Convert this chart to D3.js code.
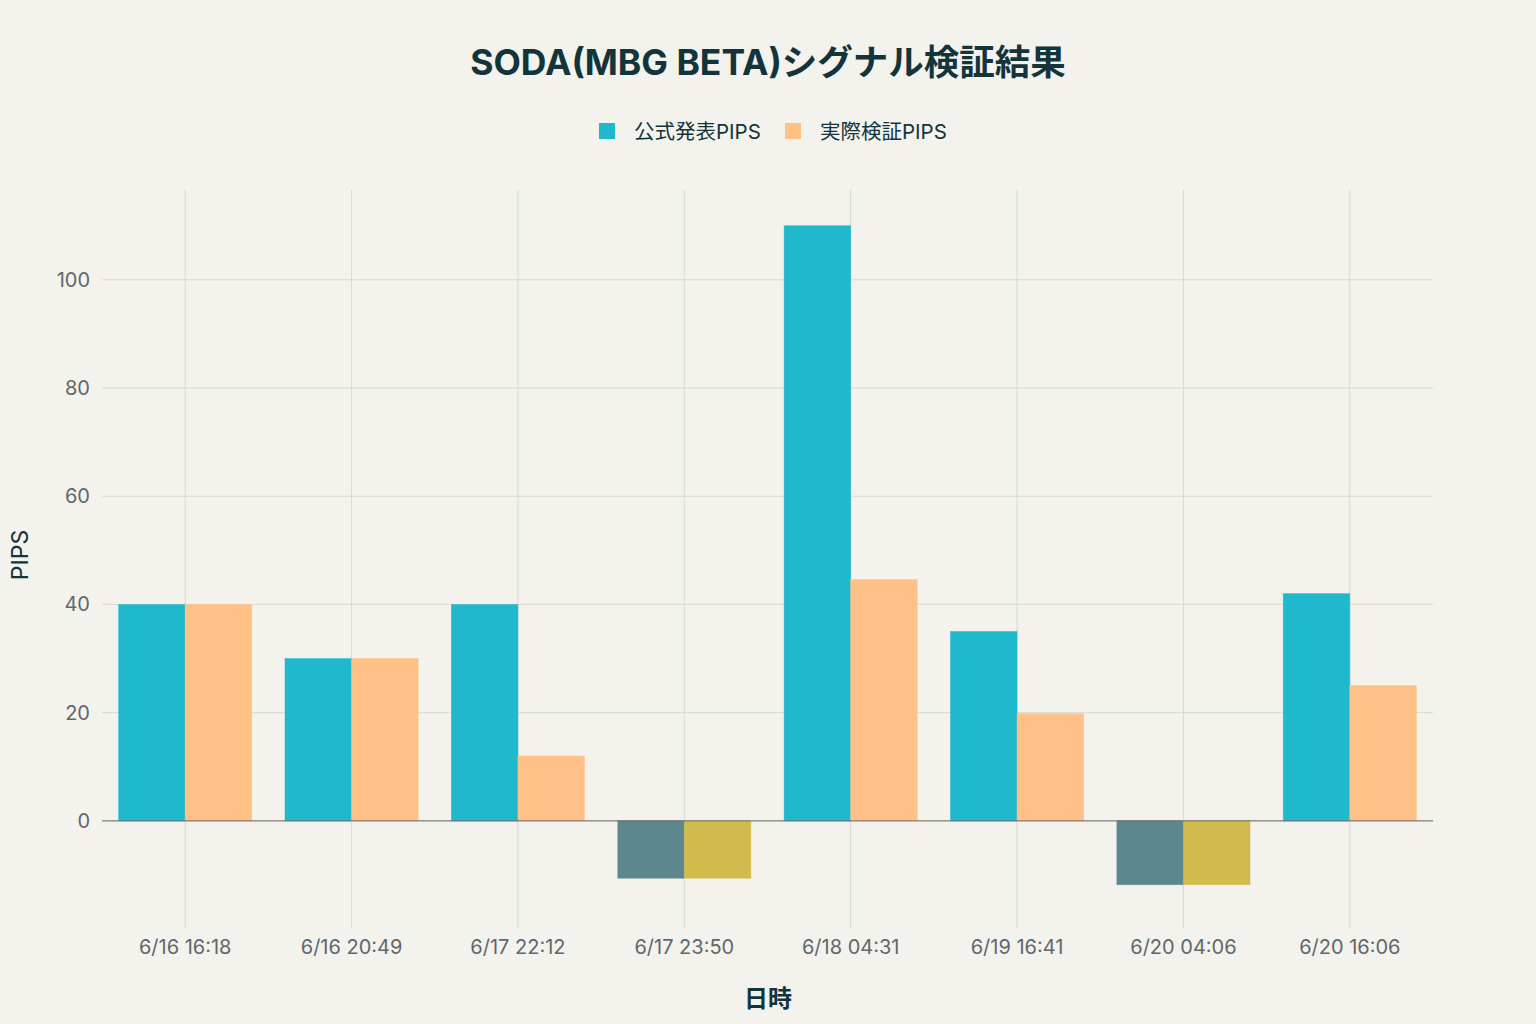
<!DOCTYPE html>
<html>
<head>
<meta charset="utf-8">
<script src="https://cdn.jsdelivr.net/npm/d3@7"></script>
<style>
  body { margin: 0; background: #F3F2EC; }
  svg text { font-family: Inter, "Noto Sans CJK JP", sans-serif; }
</style>
</head>
<body>
<script>
let dates = ['6/16 16:18', '6/16 20:49', '6/17 22:12', '6/17 23:50', '6/18 04:31', '6/19 16:41', '6/20 04:06', '6/20 16:06'];
let officialPips = [40, 30, 40, -10.6, 110, 35, -11.8, 42];
let actualPips = [40, 30, 12, -10.6, 44.6, 19.8, -11.8, 25];
let seriesNames = ['公式発表PIPS', '実際検証PIPS'];
let yTicks = [0, 20, 40, 60, 80, 100];

let width = 1536;
let height = 1024;
let margin = {top: 190, right: 103, bottom: 96, left: 102};

let colors = {
  pos: ['#1FB8CD', '#FFC185'],
  neg: ['#5D878F', '#D2BA4C']
};

let svg = d3.select('body').append('svg')
            .attr('width', width)
            .attr('height', height)

svg.append('rect')
   .attr('width', width)
   .attr('height', height)
   .attr('fill', '#F3F2EC')

let x = d3.scaleBand()
          .domain(dates)
          .range([margin.left, width - margin.right])
          .paddingInner(0.2)
          .paddingOuter(0.1)

let xStep = d3.scaleBand()
              .domain(dates)
              .range([margin.left, width - margin.right])

let x1 = d3.scaleBand()
           .domain([0, 1])
           .range([0, x.bandwidth()])

let y = d3.scaleLinear()
          .domain([-19.8, 116.6])
          .range([height - margin.bottom, margin.top])

// grid
svg.append('g')
   .selectAll('line').data(yTicks)
   .enter()
   .append('line')
   .attr('x1', margin.left)
   .attr('x2', width - margin.right)
   .attr('y1', d => y(d))
   .attr('y2', d => y(d))
   .attr('stroke', '#d9d9d3')
   .attr('stroke-width', 1)

svg.append('g')
   .selectAll('line').data(dates)
   .enter()
   .append('line')
   .attr('x1', d => xStep(d) + xStep.bandwidth() / 2)
   .attr('x2', d => xStep(d) + xStep.bandwidth() / 2)
   .attr('y1', margin.top)
   .attr('y2', height - margin.bottom)
   .attr('stroke', '#d9d9d3')
   .attr('stroke-width', 1)

// bars
let rows = [];
dates.forEach((d, i) => {
  rows.push({date: d, s: 0, v: officialPips[i]});
  rows.push({date: d, s: 1, v: actualPips[i]});
});

svg.append('g')
   .selectAll('rect').data(rows)
   .enter()
   .append('rect')
   .attr('x', d => x(d.date) + x1(d.s))
   .attr('width', x1.bandwidth())
   .attr('y', d => y(Math.max(0, d.v)))
   .attr('height', d => Math.abs(y(d.v) - y(0)))
   .attr('fill', d => d.v < 0 ? colors.neg[d.s] : colors.pos[d.s])
   .attr('stroke', d => d.v < 0 ? colors.neg[d.s] : colors.pos[d.s])
   .attr('stroke-opacity', 0.6)
   .attr('stroke-width', 0.8)

// zero line
svg.append('line')
   .attr('x1', margin.left)
   .attr('x2', width - margin.right)
   .attr('y1', y(0))
   .attr('y2', y(0))
   .attr('stroke', '#6b6b6b')
   .attr('stroke-width', 1)

// axes
let yAxis = svg.append('g')
   .attr('transform', `translate(${margin.left},0)`)
   .call(d3.axisLeft(y).tickValues(yTicks).tickSize(0).tickPadding(12))
yAxis.select('.domain').remove()
yAxis.selectAll('text')
     .attr('font-size', '20px')
     .attr('fill', '#62676b')

let xAxis = svg.append('g')
   .attr('transform', `translate(0,${height - margin.bottom})`)
   .call(d3.axisBottom(xStep).tickSize(0).tickPadding(12))
xAxis.select('.domain').remove()
xAxis.selectAll('text')
     .attr('font-size', '20px')
     .attr('fill', '#62676b')

// titles
svg.append('text')
   .attr('x', width / 2)
   .attr('y', 75)
   .attr('text-anchor', 'middle')
   .attr('font-size', '35.5px')
   .attr('font-weight', 'bold')
   .attr('fill', '#13343B')
   .text('SODA(MBG BETA)シグナル検証結果')

svg.append('text')
   .attr('x', width / 2)
   .attr('y', 1007)
   .attr('text-anchor', 'middle')
   .attr('font-size', '24px')
   .attr('font-weight', 'bold')
   .attr('fill', '#13343B')
   .text('日時')

svg.append('text')
   .attr('transform', 'translate(28,555) rotate(-90)')
   .attr('text-anchor', 'middle')
   .attr('font-size', '23px')
   .attr('fill', '#13343B')
   .text('PIPS')

// legend
let legendX = [599, 785];
let legend = svg.append('g')
   .selectAll('g').data(seriesNames)
   .enter()
   .append('g')
   .attr('transform', (d, i) => `translate(${legendX[i]},123)`)

legend.append('rect')
      .attr('width', 16)
      .attr('height', 16)
      .attr('fill', (d, i) => colors.pos[i])

legend.append('text')
      .attr('x', 35)
      .attr('y', 15.5)
      .attr('font-size', '20.5px')
      .attr('fill', '#13343B')
      .text(d => d)
</script>
</body>
</html>
